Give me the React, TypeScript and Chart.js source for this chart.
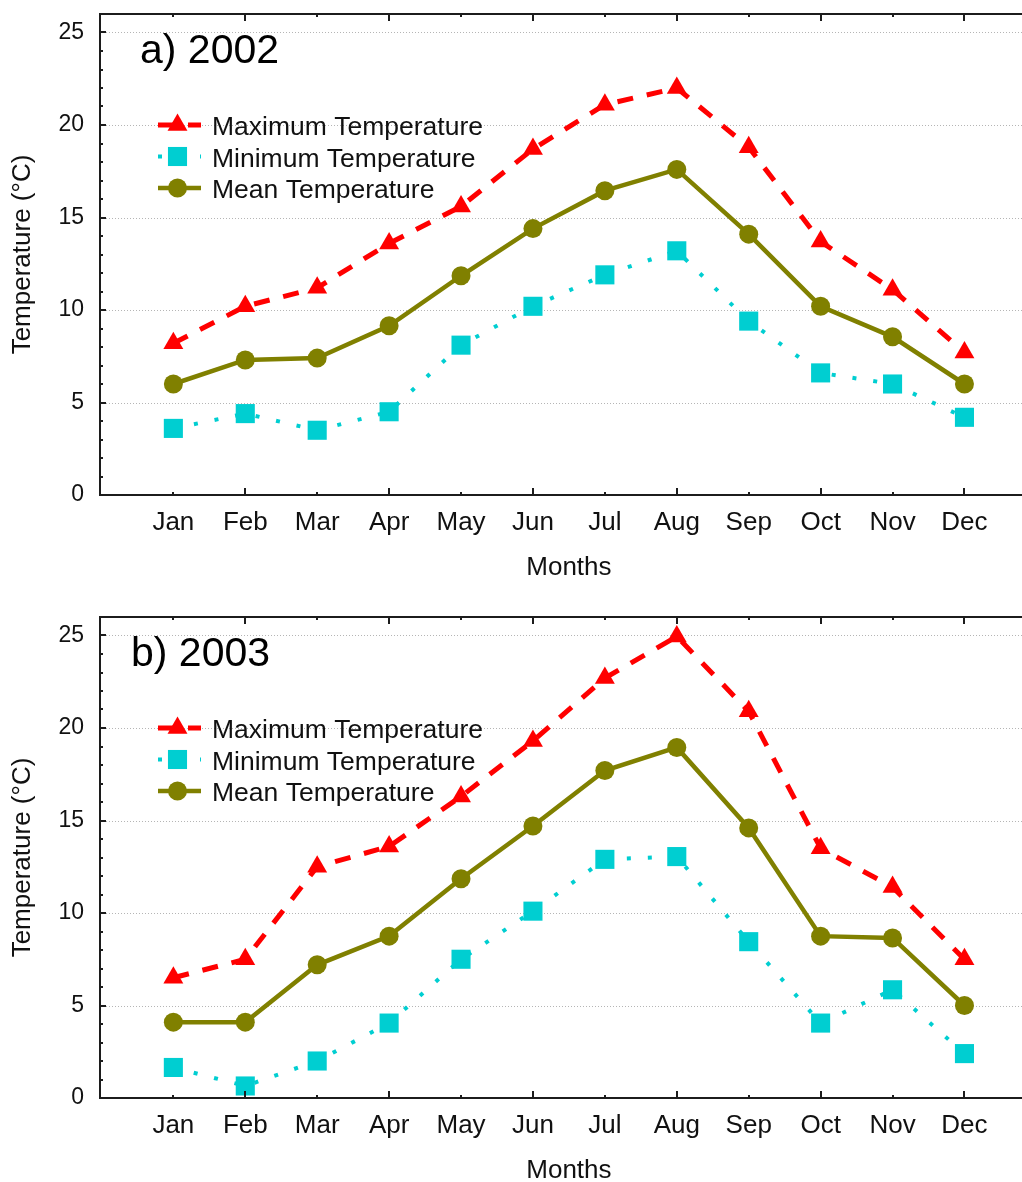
import React, { useEffect, useRef } from 'react';
import { Chart, registerables } from 'chart.js';

Chart.register(...registerables);

// Month categories and axis tick values
const months = ['Jan', 'Feb', 'Mar', 'Apr', 'May', 'Jun', 'Jul', 'Aug', 'Sep', 'Oct', 'Nov', 'Dec'];
const yTicks = [0, 5, 10, 15, 20, 25];
const seriesNames = ['Maximum Temperature', 'Minimum Temperature', 'Mean Temperature'];

// 2002 monthly temperatures (°C)
const max2002 = [8.2, 10.2, 11.2, 13.6, 15.6, 18.7, 21.1, 22.0, 18.8, 13.7, 11.1, 7.7];
const min2002 = [3.6, 4.4, 3.5, 4.5, 8.1, 10.2, 11.9, 13.2, 9.4, 6.6, 6.0, 4.2];
const mean2002 = [6.0, 7.3, 7.4, 9.15, 11.85, 14.4, 16.45, 17.6, 14.1, 10.2, 8.55, 6.0];

// 2003 monthly temperatures (°C)
const max2003 = [6.5, 7.5, 12.5, 13.6, 16.3, 19.3, 22.7, 24.95, 20.9, 13.5, 11.4, 7.5];
const min2003 = [1.65, 0.65, 2.0, 4.05, 7.5, 10.1, 12.9, 13.05, 8.45, 4.05, 5.85, 2.4];
const mean2003 = [4.1, 4.1, 7.2, 8.75, 11.85, 14.7, 17.7, 18.95, 14.6, 8.75, 8.65, 5.0];

const FONT = '"Liberation Sans", Arial, sans-serif';
const INK = '#111111';
const W = 1022;
const H = 603;

type PanelProps = {
  title: string;
  titleX: number;
  maxT: number[];
  minT: number[];
  meanT: number[];
};

function markerPath(ctx: CanvasRenderingContext2D, style: string, x: number, y: number, r: number) {
  ctx.beginPath();
  if (style === 'triangle') {
    ctx.moveTo(x, y - r);
    ctx.lineTo(x + r * Math.sin((2 * Math.PI) / 3), y + r * 0.5);
    ctx.lineTo(x - r * Math.sin((2 * Math.PI) / 3), y + r * 0.5);
    ctx.closePath();
  } else if (style === 'rect') {
    const s = r * Math.SQRT1_2;
    ctx.rect(x - s, y - s, 2 * s, 2 * s);
  } else {
    ctx.arc(x, y, r, 0, Math.PI * 2);
  }
}

// Draws the dotted grid, the axis frame with inward ticks, the x-axis title,
// the inset legend and the panel title
const framePlugin = {
  id: 'frame',
  beforeDatasetsDraw(chart: any) {
    const { ctx, chartArea: a, scales } = chart;
    const y = scales.y;
    ctx.save();
    ctx.strokeStyle = '#b5b5b5';
    ctx.lineWidth = 1;
    ctx.setLineDash([1, 2]);
    for (const v of yTicks) {
      if (v === 0) continue;
      const py = Math.round(y.getPixelForValue(v)) + 0.5;
      ctx.beginPath();
      ctx.moveTo(a.left, py);
      ctx.lineTo(a.right, py);
      ctx.stroke();
    }
    ctx.restore();
  },
  afterDatasetsDraw(chart: any, _args: any, opts: any) {
    const { ctx, chartArea: a, scales } = chart;
    const x = scales.x;
    const y = scales.y;
    ctx.save();
    ctx.strokeStyle = '#1c1c1c';
    ctx.lineWidth = 2;
    ctx.setLineDash([]);
    // frame: left, bottom, top
    ctx.beginPath();
    ctx.moveTo(a.left, a.top);
    ctx.lineTo(a.left, a.bottom);
    ctx.moveTo(a.left - 1, a.bottom);
    ctx.lineTo(a.right, a.bottom);
    ctx.moveTo(a.left - 1, a.top);
    ctx.lineTo(a.right, a.top);
    ctx.stroke();
    // inward ticks
    ctx.lineWidth = 2;
    ctx.beginPath();
    for (let v = 1; v <= 25; v++) {
      const py = Math.round(y.getPixelForValue(v));
      const len = v % 5 === 0 ? 6 : 3;
      ctx.moveTo(a.left, py);
      ctx.lineTo(a.left + len, py);
    }
    months.forEach((_, i) => {
      const px = Math.round(x.getPixelForValue(i + 1));
      const len = (i + 1) % 2 === 0 ? 7 : 3;
      ctx.moveTo(px, a.bottom);
      ctx.lineTo(px, a.bottom - len);
      ctx.moveTo(px, a.top);
      ctx.lineTo(px, a.top + len);
    });
    ctx.stroke();

    // x-axis title, centred under the labelled months
    ctx.fillStyle = INK;
    ctx.font = `26px ${FONT}`;
    ctx.textAlign = 'center';
    ctx.textBaseline = 'middle';
    const midX = (x.getPixelForValue(1) + x.getPixelForValue(12)) / 2;
    ctx.fillText('Months', midX, a.bottom + 73);

    // inset legend
    const rowY = [111, 142.5, 174];
    const x0 = 158;
    const x1 = 201;
    const xm = 177.5;
    chart.data.datasets.forEach((ds: any, i: number) => {
      const ry = a.top + rowY[i];
      ctx.save();
      ctx.strokeStyle = ds.borderColor;
      ctx.lineWidth = ds.borderWidth;
      ctx.setLineDash(ds.borderDash || []);
      ctx.beginPath();
      ctx.moveTo(x0, ry);
      ctx.lineTo(x1, ry);
      ctx.stroke();
      ctx.setLineDash([]);
      ctx.fillStyle = ds.backgroundColor;
      markerPath(ctx, ds.pointStyle, xm, ry, ds.pointRadius);
      ctx.fill();
      ctx.fillStyle = INK;
      ctx.font = `26.5px ${FONT}`;
      ctx.textBaseline = 'alphabetic';
      ctx.textAlign = 'left';
      ctx.fillText(ds.label, 212, ry + 10);
      ctx.restore();
    });

    // panel title
    ctx.fillStyle = '#000';
    ctx.font = `41px ${FONT}`;
    ctx.textBaseline = 'alphabetic';
    ctx.textAlign = 'left';
    ctx.fillText(opts.title, opts.titleX, a.top + 49);
    ctx.restore();
  },
};

function Panel({ title, titleX, maxT, minT, meanT }: PanelProps) {
  const ref = useRef<HTMLCanvasElement>(null);

  useEffect(() => {
    const toPoints = (arr: number[]) => arr.map((v, i) => ({ x: i + 1, y: v }));
    const chart = new Chart(ref.current as HTMLCanvasElement, {
      type: 'line',
      data: {
        datasets: [
          {
            label: seriesNames[0],
            data: toPoints(maxT),
            borderColor: '#ff0000',
            backgroundColor: '#ff0000',
            borderWidth: 5,
            borderDash: [16, 14],
            pointStyle: 'triangle',
            pointRadius: 11.5,
            pointBorderWidth: 0,
            tension: 0,
          },
          {
            label: seriesNames[1],
            data: toPoints(minT),
            borderColor: '#00ced1',
            backgroundColor: '#00ced1',
            borderWidth: 4,
            borderDash: [4, 17],
            pointStyle: 'rect',
            pointRadius: 13.5,
            pointBorderWidth: 0,
            tension: 0,
          },
          {
            label: seriesNames[2],
            data: toPoints(meanT),
            borderColor: '#808000',
            backgroundColor: '#808000',
            borderWidth: 4.5,
            borderDash: [],
            pointStyle: 'circle',
            pointRadius: 9.5,
            pointBorderWidth: 0,
            tension: 0,
          },
        ] as any,
      },
      options: {
        responsive: false,
        animation: false,
        layout: { autoPadding: false, padding: { top: 14, left: 0, right: 0, bottom: 0 } },
        plugins: {
          legend: { display: false },
          tooltip: { enabled: false },
          frame: { title, titleX },
        } as any,
        scales: {
          x: {
            type: 'linear',
            min: -0.02,
            max: 12.8,
            afterBuildTicks: (s: any) => {
              s.ticks = months.map((_, i) => ({ value: i + 1 }));
            },
            afterFit: (s: any) => {
              s.height = 108;
              s.paddingLeft = 0;
              s.paddingRight = 0;
              s.paddingTop = 0;
              s.paddingBottom = 0;
            },
            grid: { display: false, drawTicks: false },
            border: { display: false },
            ticks: {
              autoSkip: false,
              maxRotation: 0,
              padding: 12,
              color: INK,
              font: { family: FONT, size: 26 },
              callback: (v: any) => months[Number(v) - 1] ?? '',
            },
            title: { display: false },
          },
          y: {
            type: 'linear',
            min: 0,
            max: 26,
            afterBuildTicks: (s: any) => {
              s.ticks = yTicks.map((v) => ({ value: v }));
            },
            afterFit: (s: any) => {
              s.width = 100;
              s.paddingLeft = 0;
              s.paddingRight = 0;
              s.paddingTop = 0;
              s.paddingBottom = 0;
            },
            grid: { display: false, drawTicks: false },
            border: { display: false },
            ticks: {
              padding: 16,
              color: INK,
              font: { family: FONT, size: 23 },
              callback: (v: any) => String(v),
            },
            title: {
              display: true,
              text: 'Temperature (°C)',
              color: INK,
              font: { family: FONT, size: 26 },
              padding: { top: 7, bottom: 0 },
            },
          },
        } as any,
      },
      plugins: [framePlugin],
    });
    return () => chart.destroy();
  }, [title, titleX, maxT, minT, meanT]);

  return <canvas ref={ref} width={W} height={H} style={{ display: 'block', width: W, height: H }} />;
}

export default function App() {
  return (
    <div
      style={{
        position: 'fixed',
        left: 0,
        top: 0,
        width: W,
        height: 1182,
        overflow: 'hidden',
        background: '#ffffff',
      }}
    >
      <div style={{ position: 'absolute', left: 0, top: 0 }}>
        <Panel title="a) 2002" titleX={140} maxT={max2002} minT={min2002} meanT={mean2002} />
      </div>
      <div style={{ position: 'absolute', left: 0, top: 603 }}>
        <Panel title="b) 2003" titleX={131} maxT={max2003} minT={min2003} meanT={mean2003} />
      </div>
    </div>
  );
}
